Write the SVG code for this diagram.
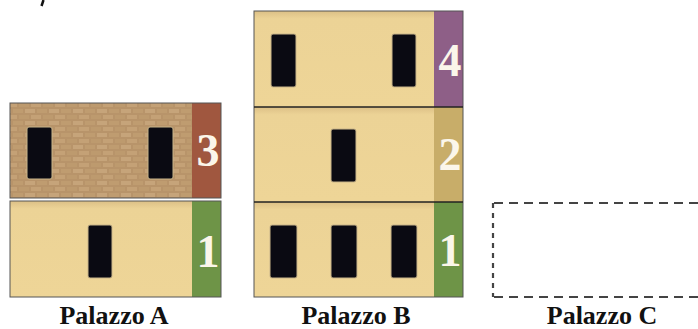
<svg xmlns="http://www.w3.org/2000/svg" width="698" height="329" viewBox="0 0 698 329">
<style>
.tan{fill:url(#tanG)}
.brick{fill:url(#brickP)}
.edge{fill:none;stroke:#555;stroke-width:1}
.sep{stroke:#222;stroke-width:1.5}
.win{fill:#0a0a12;stroke:#c9b58a;stroke-width:1}
.num{font-family:"Liberation Serif",serif;font-weight:bold;font-size:46px;fill:#fbf6ea;text-anchor:middle}
.lbl{font-family:"Liberation Serif",serif;font-weight:bold;font-size:26px;fill:#111;text-anchor:middle}
.dash{stroke:#444;stroke-width:2.2;fill:none}
</style>
<defs>
<linearGradient id="tanG" x1="0" y1="0" x2="0" y2="1">
<stop offset="0" stop-color="#dcc086"/>
<stop offset="0.08" stop-color="#ecd396"/>
<stop offset="1" stop-color="#eed597"/>
</linearGradient>
<pattern id="brickP" width="24" height="12" patternUnits="userSpaceOnUse">
<rect width="24" height="12" fill="#b8946a"/>
<rect x="1" y="1" width="10" height="4" fill="#c6a47a"/>
<rect x="13" y="1" width="10" height="4" fill="#bf9c70"/>
<rect x="7" y="7" width="10" height="4" fill="#c4a176"/>
<rect x="-5" y="7" width="10" height="4" fill="#bd9a6e"/>
<rect x="19" y="7" width="10" height="4" fill="#bd9a6e"/>
</pattern>
</defs>
<line x1="43.5" y1="0" x2="41.5" y2="6" stroke="#111" stroke-width="2.5"/>
<g id="palazzoA">
<g id="A-floor3">
<rect x="10" y="103" width="182" height="95" class="brick"/>
<rect x="192" y="103" width="29" height="95" fill="#a0573f"/>
<rect x="27" y="127" width="25" height="52" rx="2" class="win"/>
<rect x="148" y="127" width="25" height="52" rx="2" class="win"/>
<text x="208" y="166" class="num">3</text>
<rect x="10" y="103" width="211" height="95" class="edge"/>
</g>
<g id="A-floor1">
<rect x="10" y="201" width="182" height="96" class="tan"/>
<rect x="192" y="201" width="29" height="96" fill="#6e9447"/>
<rect x="88" y="225" width="24" height="53" rx="2" class="win"/>
<text x="208" y="267" class="num">1</text>
<rect x="10" y="201" width="211" height="96" class="edge"/>
</g>
<text x="114" y="324" class="lbl">Palazzo A</text>
</g>
<g id="palazzoB">
<g id="B-floor4">
<rect x="254" y="11" width="180" height="96" class="tan"/>
<rect x="434" y="11" width="29" height="96" fill="#8e5f87"/>
<rect x="271" y="34" width="25" height="53" rx="2" class="win"/>
<rect x="392" y="34" width="24" height="53" rx="2" class="win"/>
<text x="450" y="76" class="num">4</text>
</g>
<g id="B-floor2">
<rect x="254" y="107" width="180" height="95" class="tan"/>
<rect x="434" y="107" width="29" height="95" fill="#c8ad69"/>
<rect x="331" y="129" width="25" height="53" rx="2" class="win"/>
<text x="450" y="170" class="num">2</text>
</g>
<g id="B-floor1">
<rect x="254" y="202" width="180" height="95" class="tan"/>
<rect x="434" y="202" width="29" height="95" fill="#6e9447"/>
<rect x="270" y="225" width="27" height="53" rx="2" class="win"/>
<rect x="331" y="225" width="26" height="53" rx="2" class="win"/>
<rect x="391" y="225" width="26" height="53" rx="2" class="win"/>
<text x="450" y="266" class="num">1</text>
</g>
<rect x="254" y="11" width="209" height="286" class="edge"/>
<line x1="254" y1="107" x2="463" y2="107" class="sep"/>
<line x1="254" y1="202" x2="463" y2="202" class="sep"/>
<text x="356" y="324" class="lbl">Palazzo B</text>
</g>
<g id="palazzoC">
<line x1="494" y1="203" x2="698" y2="203" class="dash" stroke-dasharray="9 6"/>
<line x1="494" y1="297" x2="698" y2="297" class="dash" stroke-dasharray="9 6"/>
<line x1="493" y1="203" x2="493" y2="297" class="dash" stroke-dasharray="5 5"/>
<text x="602" y="324" class="lbl">Palazzo C</text>
</g>
</svg>
